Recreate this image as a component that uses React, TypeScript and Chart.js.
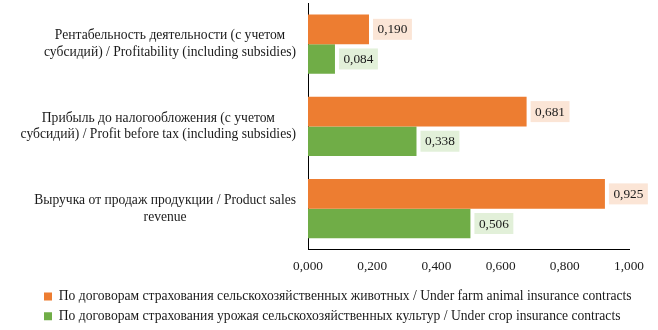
import React, { useEffect, useRef } from "react";
import { Chart, registerables } from "chart.js";

Chart.register(...registerables);

const categories: string[][] = [
  ["Рентабельность деятельности (с учетом", "субсидий) / Profitability (including subsidies)"],
  ["Прибыль до налогообложения (с учетом", "субсидий) / Profit before tax (including subsidies)"],
  ["Выручка от продаж продукции / Product sales", "revenue"],
];
const seriesNames = [
  "По договорам страхования сельскохозяйственных животных / Under farm animal insurance contracts",
  "По договорам страхования урожая сельскохозяйственных культур / Under crop insurance contracts",
];
const animalValues = [0.19, 0.681, 0.925];
const cropValues = [0.084, 0.338, 0.506];
const xTicks = [0, 0.2, 0.4, 0.6, 0.8, 1.0];

const FONT = "'Liberation Serif', 'Times New Roman', serif";
const FS = 13.3;
const FS_TEXT = 13.6;
const fmt = (v: number) => v.toFixed(3).replace(".", ",");

const labelFills = ["#FBE5D6", "#E2F0D9"];

const legendWidenPlugin = {
  id: "legendWiden",
  afterLayout(chart: any) {
    const lg = chart.legend;
    if (lg) {
      lg.right = chart.width;
      lg.width = lg.right - lg.left;
    }
  },
};

const catLabelPlugin = {
  id: "catLabels",
  afterDraw(chart: any) {
    const ctx = chart.ctx;
    const yScale = chart.scales.y;
    const right = chart.chartArea.left - 12;
    ctx.save();
    ctx.font = `${FS_TEXT}px ${FONT}`;
    ctx.fillStyle = "#1a1a1a";
    ctx.textAlign = "center";
    ctx.textBaseline = "middle";
    categories.forEach((lines, i) => {
      const cy = yScale.getPixelForValue(i);
      const w = Math.max(...lines.map((l) => ctx.measureText(l).width));
      const cx = right - w / 2;
      const lh = 16.5;
      const start = cy - ((lines.length - 1) * lh) / 2;
      lines.forEach((l, j) => ctx.fillText(l, cx, start + j * lh));
    });
    ctx.restore();
  },
};

const valueLabelPlugin = {
  id: "valueLabels",
  afterDatasetsDraw(chart: any) {
    const ctx = chart.ctx;
    ctx.save();
    ctx.font = `${FS}px ${FONT}`;
    ctx.textBaseline = "middle";
    ctx.textAlign = "left";
    chart.data.datasets.forEach((ds: any, di: number) => {
      const meta = chart.getDatasetMeta(di);
      meta.data.forEach((bar: any, i: number) => {
        const text = fmt(ds.data[i]);
        const tw = ctx.measureText(text).width;
        const bx = bar.x + 4;
        const bh = 21;
        const by = bar.y - bh / 2;
        ctx.fillStyle = labelFills[di];
        ctx.fillRect(bx, by, tw + 9, bh);
        ctx.fillStyle = "#1a1a1a";
        ctx.fillText(text, bx + 4.5, bar.y + 0.5);
      });
    });
    ctx.restore();
  },
};

export default function App() {
  const ref = useRef<HTMLCanvasElement>(null);
  useEffect(() => {
    if (!ref.current) return;
    const chart = new Chart(ref.current, {
      type: "bar",
      data: {
        labels: categories.map((c) => c.join(" ")),
        datasets: [
          {
            label: seriesNames[0],
            data: animalValues,
            backgroundColor: "#ED7D31",
            borderWidth: 0,
            categoryPercentage: 0.72,
            barPercentage: 1,
          },
          {
            label: seriesNames[1],
            data: cropValues,
            backgroundColor: "#70AD47",
            borderWidth: 0,
            categoryPercentage: 0.72,
            barPercentage: 1,
          },
        ],
      },
      options: {
        indexAxis: "y",
        responsive: false,
        animation: false,
        layout: { padding: { left: 38, top: 3, right: 29, bottom: -3 } },
        scales: {
          x: {
            min: 0,
            max: 1,
            afterBuildTicks: (s: any) => {
              s.ticks = xTicks.map((v) => ({ value: v }));
            },
            grid: { display: false, drawTicks: false },
            border: { display: true, color: "#000", width: 1 },
            ticks: {
              color: "#1a1a1a",
              font: { family: FONT, size: FS },
              padding: 9,
              callback: (v: any) => fmt(Number(v)),
            },
          },
          y: {
            grid: { display: false, drawTicks: false },
            border: { display: true, color: "#000", width: 1 },
            ticks: { display: false },
            afterFit: (s: any) => {
              s.width = 270;
            },
          },
        },
        plugins: {
          legend: {
            position: "bottom",
            align: "start",
            labels: {
              boxWidth: 8,
              boxHeight: 8,
              padding: 6,
              color: "#1a1a1a",
              font: { family: FONT, size: FS_TEXT },
            },
          },
          tooltip: { enabled: false },
        },
      },
      plugins: [legendWidenPlugin, catLabelPlugin, valueLabelPlugin],
    } as any);
    return () => chart.destroy();
  }, []);
  return (
    <div style={{ position: "absolute", left: 0, top: 0, width: 658, height: 330, background: "#fff" }}>
      <canvas ref={ref} width={658} height={330} />
    </div>
  );
}
